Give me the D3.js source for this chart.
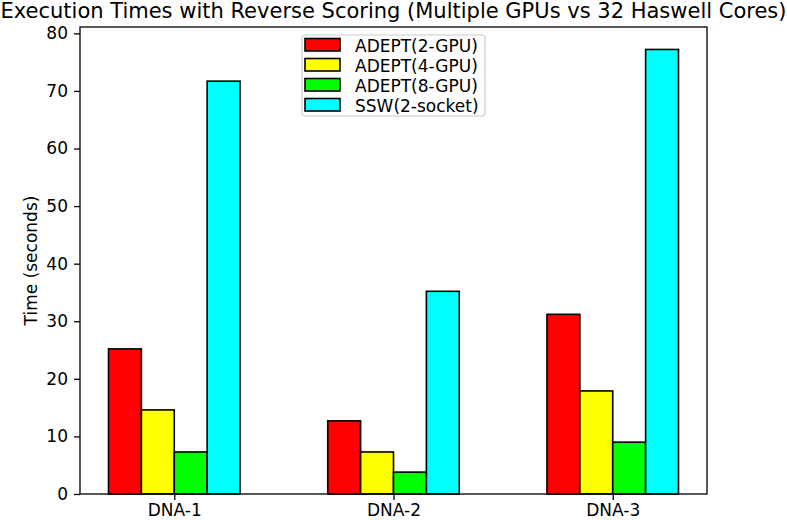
<!DOCTYPE html>
<html>
<head>
<meta charset="utf-8">
<script src="https://cdn.jsdelivr.net/npm/d3@7/dist/d3.min.js"></script>
<style>
  body { margin: 0; background: #fff; }
  svg { font-family: 'DejaVu Sans', sans-serif; }
</style>
</head>
<body>
<svg id="chart" width="787" height="520"></svg>
<script>
// chart data
const categories = ['DNA-1', 'DNA-2', 'DNA-3'];
const seriesNames = ['ADEPT(2-GPU)', 'ADEPT(4-GPU)', 'ADEPT(8-GPU)', 'SSW(2-socket)'];
const seriesColors = ['#ff0000', '#ffff00', '#00ff00', '#00ffff'];
const gpu2 = [25.2, 12.7, 31.2];
const gpu4 = [14.6, 7.3, 17.9];
const gpu8 = [7.3, 3.8, 9.0];
const ssw = [71.7, 35.2, 77.2];
const yTicks = [0, 10, 20, 30, 40, 50, 60, 70, 80];

const seriesValues = [gpu2, gpu4, gpu8, ssw];
const barWidth = 0.15;

const margin = { top: 27, right: 80, bottom: 26, left: 80 };
const width = 787 - margin.left - margin.right;
const height = 520 - margin.top - margin.bottom;

const svgEl = d3.select('#chart');
svgEl.selectAll('*').remove();

const svg = svgEl
  .append('g')
  .attr('transform', `translate(${margin.left},${margin.top})`);

// numeric x like matplotlib: index positions with bar offsets
const x = d3.scaleLinear().domain([-0.43, 2.43]).range([0, width]);
const y = d3.scaleLinear().domain([0, 81.1]).range([height, 0]);

const bars = [];
seriesValues.forEach((vals, s) => {
  vals.forEach((v, i) => {
    bars.push({ s, i, value: v });
  });
});

svg
  .selectAll('rect.bar')
  .data(bars)
  .enter()
  .append('rect')
  .attr('class', 'bar')
  .attr('x', (d) => x(d.i + (d.s - 2) * barWidth))
  .attr('y', (d) => y(d.value))
  .attr('width', (d) => x(barWidth) - x(0))
  .attr('height', (d) => height - y(d.value))
  .style('fill', (d) => seriesColors[d.s])
  .style('stroke', '#000')
  .style('stroke-width', 1.6);

// axes
const xAxis = svg
  .append('g')
  .attr('transform', `translate(0, ${height})`)
  .call(
    d3.axisBottom(x)
      .tickValues(categories.map((c, i) => i))
      .tickFormat((d) => categories[d])
      .tickSizeInner(6)
      .tickSizeOuter(0)
      .tickPadding(4),
  );

const yAxis = svg.append('g').call(
  d3.axisLeft(y)
    .tickValues(yTicks)
    .tickSizeInner(6)
    .tickSizeOuter(0)
    .tickPadding(6),
);

[xAxis, yAxis].forEach((a) => {
  a.select('.domain').remove();
  a.selectAll('.tick line').attr('stroke', '#000').attr('stroke-width', 1.3);
  a.selectAll('.tick text')
    .attr('fill', '#000')
    .style('font-size', '17px')
    .style('font-family', "'DejaVu Sans', sans-serif");
});

// frame
svg
  .append('rect')
  .attr('x', 0)
  .attr('y', 0)
  .attr('width', width)
  .attr('height', height)
  .style('fill', 'none')
  .style('stroke', '#000')
  .style('stroke-width', 1.3);

// title
svgEl
  .append('text')
  .attr('x', margin.left + width / 2)
  .attr('y', 18)
  .attr('text-anchor', 'middle')
  .style('font-size', '21px')
  .text('Execution Times with Reverse Scoring (Multiple GPUs vs 32 Haswell Cores)');

// y label
svgEl
  .append('text')
  .attr('transform', `translate(37, ${margin.top + height / 2}) rotate(-90)`)
  .attr('text-anchor', 'middle')
  .style('font-size', '17px')
  .text('Time (seconds)');

// legend
const legend = svgEl.append('g').attr('transform', 'translate(302, 35)');
legend
  .append('rect')
  .attr('width', 183)
  .attr('height', 81)
  .attr('rx', 3)
  .style('fill', '#fff')
  .style('fill-opacity', 0.8)
  .style('stroke', '#cccccc')
  .style('stroke-width', 1.2);

const items = legend
  .selectAll('g.item')
  .data(seriesNames)
  .enter()
  .append('g')
  .attr('class', 'item')
  .attr('transform', (d, i) => `translate(3, ${3.5 + i * 20})`);

items
  .append('rect')
  .attr('width', 35)
  .attr('height', 12.5)
  .style('fill', (d, i) => seriesColors[i])
  .style('stroke', '#000')
  .style('stroke-width', 1.6);

items
  .append('text')
  .attr('x', 50)
  .attr('y', 13)
  .style('font-size', '17px')
  .text((d) => d);
</script>
</body>
</html>
